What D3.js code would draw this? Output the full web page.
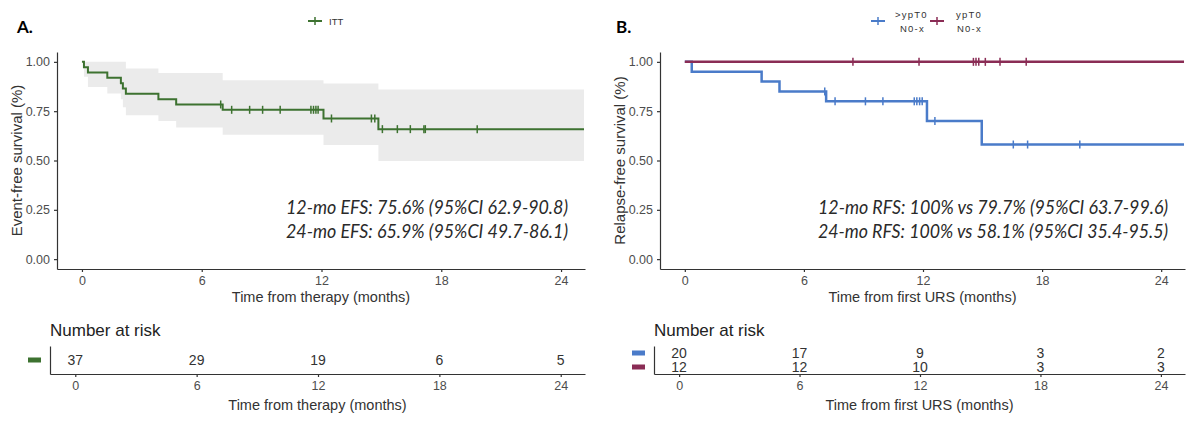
<!DOCTYPE html>
<html>
<head>
<meta charset="utf-8">
<script src="https://cdn.jsdelivr.net/npm/d3@7"></script>
<style>
body { margin: 0; background: #fff; }
svg { display: block; }
text { font-family: "Liberation Sans", Arial, sans-serif; }
.axis path, .axis line { stroke: #333; stroke-width: 1.2; }
.axis text { fill: #4d4d4d; font-size: 12.5px; font-family: "Liberation Sans", Arial, sans-serif; }
.note { font-family: Lato, "Open Sans", sans-serif; font-style: italic; font-size: 18.5px; fill: #2a2a2a; }
</style>
</head>
<body>
<svg width="1200" height="424"></svg>
<script>
const monthTicks = [0, 6, 12, 18, 24]
const survTicks = [0, 0.25, 0.5, 0.75, 1]
const lastFollowUp = 25.15

// A. ITT - event-free survival
const ittTimes = [0, 0.1, 0.3, 1.27, 1.95, 2.05, 2.2, 3.83, 4.72, 7.05, 12.1, 14.85]
const ittSurv = [1, 0.973, 0.946, 0.919, 0.892, 0.865, 0.838, 0.811, 0.784, 0.757, 0.713, 0.659]
const ittUpper = [1, 1, 1, 1, 1, 1, 0.966, 0.944, 0.944, 0.907, 0.89, 0.86]
const ittLower = [1, 0.925, 0.873, 0.84, 0.81, 0.77, 0.73, 0.7, 0.667, 0.63, 0.578, 0.497]
const ittCensor = [6.95, 7.5, 8.4, 9.05, 9.93, 11.47, 11.6, 11.72, 11.83, 12.5, 14.5, 14.67, 15.05, 15.8, 16.45, 17.13, 17.2, 19.8]
const ittRisk = [37, 29, 19, 6, 5]

// B. relapse-free survival, >ypT0 N0-x vs ypT0 N0-x
const posTimes = [0, 0.35, 3.87, 4.77, 7.12, 12.2, 14.96]
const posSurv = [1, 0.95, 0.9, 0.85, 0.8, 0.7, 0.581]
const posCensor = [7.05, 7.57, 9.1, 9.98, 11.56, 11.69, 11.83, 11.96, 12.6, 16.55, 17.27, 19.9]
const posRisk = [20, 17, 9, 3, 2]

const negTimes = [0]
const negSurv = [1]
const negCensor = [8.47, 11.8, 14.54, 14.67, 14.81, 15.14, 15.88, 17.2]
const negRisk = [12, 12, 10, 3, 3]

const xDom = [-1.25, 25.2]
const svg = d3.select('svg')

function survAt(times, surv, t) {
    let v = surv[0]
    times.forEach((tt, i) => { if (tt <= t) v = surv[i] })
    return v
}

function drawPanel(p) {
    const x = d3.scaleLinear().domain(xDom).range([p.left, p.right])
    const y = d3.scaleLinear().domain([-0.05, 1.05]).range([269, 52])
    const g = svg.append('g')

    // confidence band
    p.series.forEach(s => {
        if (!s.upper) return
        const pts = s.times.map((t, i) => ({t: t, lo: s.lower[i], hi: s.upper[i]}))
        pts.push({t: lastFollowUp, lo: s.lower[s.lower.length - 1], hi: s.upper[s.upper.length - 1]})
        g.append('path').datum(pts)
            .attr('fill', '#ebebeb')
            .attr('d', d3.area().curve(d3.curveStepAfter)
                .x(d => x(d.t)).y0(d => y(d.lo)).y1(d => y(d.hi)))
    })

    // axes
    g.append('g').attr('class', 'axis')
        .attr('transform', 'translate(0,269)')
        .call(d3.axisBottom(x).tickValues(monthTicks).tickSize(3).tickSizeOuter(0).tickPadding(4))
    g.append('g').attr('class', 'axis')
        .attr('transform', `translate(${p.left},0)`)
        .call(d3.axisLeft(y).tickValues(survTicks).tickFormat(d3.format('.2f')).tickSize(3).tickSizeOuter(0).tickPadding(4))

    // curves + censor marks
    p.series.forEach(s => {
        const pts = s.times.map((t, i) => [t, s.surv[i]])
        pts.push([lastFollowUp, s.surv[s.surv.length - 1]])
        g.append('path').datum(pts)
            .attr('fill', 'none')
            .attr('stroke', s.color)
            .attr('stroke-width', s.width)
            .attr('d', d3.line().curve(d3.curveStepAfter).x(d => x(d[0])).y(d => y(d[1])))
        g.selectAll(null).data(s.censor).join('line')
            .attr('x1', d => x(d)).attr('x2', d => x(d))
            .attr('y1', d => y(survAt(s.times, s.surv, d)) - 4)
            .attr('y2', d => y(survAt(s.times, s.surv, d)) + 4)
            .attr('stroke', s.color).attr('stroke-width', 1.5)
    })

    // titles
    svg.append('text').attr('x', p.letterX).attr('y', 33)
        .style('font-family', 'Lato, sans-serif').style('font-weight', 700).style('font-size', '17px')
        .text(p.letter)
    svg.append('text')
        .attr('transform', `translate(${p.left - 40},${(52 + 269) / 2}) rotate(-90)`)
        .attr('text-anchor', 'middle').attr('dy', '0.35em')
        .style('font-size', '15px').style('fill', '#333')
        .text(p.yTitle)
    svg.append('text').attr('x', (p.left + p.right) / 2).attr('y', 302)
        .attr('text-anchor', 'middle').style('font-size', '14.5px').style('fill', '#333')
        .text(p.xTitle)

    // annotation
    p.notes.forEach((n, i) => {
        svg.append('text').attr('class', 'note')
            .attr('x', p.noteX).attr('y', 214 + i * 24)
            .attr('textLength', p.noteW).attr('lengthAdjust', 'spacingAndGlyphs')
            .text(n)
    })

    // legend
    p.legend.forEach(l => {
        const lg = svg.append('g').attr('transform', `translate(${l.x},21)`)
        lg.append('line').attr('x1', -7).attr('x2', 7).attr('stroke', l.color).attr('stroke-width', 2)
        lg.append('line').attr('y1', -4).attr('y2', 4).attr('stroke', l.color).attr('stroke-width', 1.5)
        l.lines.forEach((t, i) => {
            lg.append('text').attr('x', l.tx[i]).attr('y', l.lines.length > 1 ? -3 + i * 14 : 4)
                .style('font-size', '9.5px').style('letter-spacing', l.lines.length > 1 ? '1.2px' : '0px')
                .style('fill', '#333').text(t)
        })
    })

    // risk table
    const xr = d3.scaleLinear().domain(xDom).range([p.riskLeft, p.right])
    const yr = d3.scalePoint().domain(p.series.map(s => s.name)).range([346, 374]).padding(0.5)
    svg.append('text').attr('x', p.riskLeft).attr('y', 336)
        .style('font-size', '17px').style('fill', '#222').text('Number at risk')
    svg.append('g').attr('class', 'axis')
        .attr('transform', 'translate(0,374)')
        .call(d3.axisBottom(xr).tickValues(monthTicks).tickSize(3).tickSizeOuter(0).tickPadding(4))
    svg.append('g').attr('class', 'axis')
        .attr('transform', `translate(${p.riskLeft},0)`)
        .call(d3.axisLeft(yr).tickValues([]).tickSizeOuter(0))
    p.series.forEach(s => {
        svg.append('rect').attr('x', p.riskLeft - 22).attr('y', yr(s.name) - 2.5)
            .attr('width', 13).attr('height', 5).attr('fill', s.color)
        svg.selectAll(null).data(s.risk).join('text')
            .attr('x', (d, i) => xr(monthTicks[i])).attr('y', yr(s.name))
            .attr('text-anchor', 'middle').attr('dy', '0.36em')
            .style('font-size', '14px').style('fill', '#333')
            .text(d => d)
    })
    svg.append('text').attr('x', (p.riskLeft + p.right) / 2).attr('y', 410)
        .attr('text-anchor', 'middle').style('font-size', '14.5px').style('fill', '#333')
        .text(p.xTitle)
}

drawPanel({
    left: 57, right: 585, riskLeft: 50, letter: 'A.', letterX: 17,
    yTitle: 'Event-free survival (%)', xTitle: 'Time from therapy (months)',
    noteX: 286, noteW: 282,
    notes: ['12-mo EFS: 75.6% (95%CI 62.9-90.8)', '24-mo EFS: 65.9% (95%CI 49.7-86.1)'],
    legend: [{x: 315, color: '#3d7230', lines: ['ITT'], tx: [14]}],
    series: [{name: 'ITT', times: ittTimes, surv: ittSurv, upper: ittUpper, lower: ittLower,
        censor: ittCensor, risk: ittRisk, color: '#3d7230', width: 2}]
})

drawPanel({
    left: 660, right: 1185, riskLeft: 654, letter: 'B.', letterX: 616,
    yTitle: 'Relapse-free survival (%)', xTitle: 'Time from first URS (months)',
    noteX: 818, noteW: 350,
    notes: ['12-mo RFS: 100% vs 79.7% (95%CI 63.7-99.6)', '24-mo RFS: 100% vs 58.1% (95%CI 35.4-95.5)'],
    legend: [
        {x: 878, color: '#4a7bc9', lines: ['>ypT0', 'N0-x'], tx: [17, 22]},
        {x: 937, color: '#8a2c55', lines: ['ypT0', 'N0-x'], tx: [19, 20]}
    ],
    series: [
        {name: '>ypT0 N0-x', times: posTimes, surv: posSurv, censor: posCensor, risk: posRisk, color: '#4a7bc9', width: 2.5},
        {name: 'ypT0 N0-x', times: negTimes, surv: negSurv, censor: negCensor, risk: negRisk, color: '#8a2c55', width: 2.5}
    ]
})
</script>
</body>
</html>
